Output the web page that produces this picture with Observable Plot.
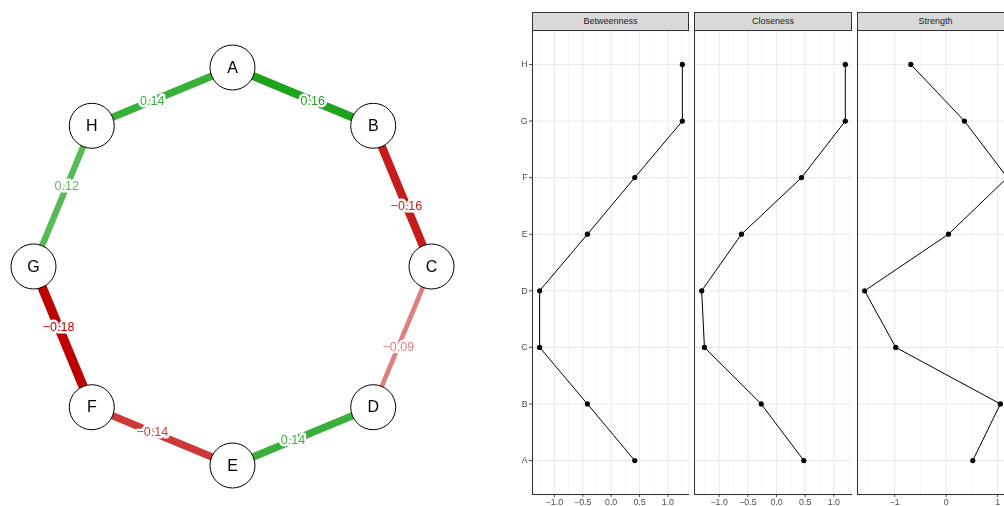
<!DOCTYPE html>
<html>
<head>
<meta charset="utf-8">
<script src="https://cdn.jsdelivr.net/npm/d3@7"></script>
<script src="https://cdn.jsdelivr.net/npm/@observablehq/plot@0.6"></script>
<style>
  body { margin: 0; background: #fff; overflow: hidden; font-family: "Liberation Sans", Arial, sans-serif; }
  #root { position: relative; width: 1004px; height: 506px; overflow: hidden; background: #fff; }
  #root svg { will-change: transform; }
  .strip { position: absolute; top: 12px; height: 19px; box-sizing: border-box; background: #d9d9d9;
           border: 1px solid #333; font-size: 9px; line-height: 17px; text-align: center; color: #1a1a1a; }
</style>
</head>
<body>
<div id="root"></div>
<script>
// ---------- data ----------
const nodes = ["A", "B", "C", "D", "E", "F", "G", "H"];

const edgeFrom   = ["A", "B", "C", "D", "E", "F", "G", "A"];
const edgeTo     = ["B", "C", "D", "E", "F", "G", "H", "H"];
const edgeWeight = [0.16, -0.16, -0.09, 0.14, -0.14, -0.18, 0.12, 0.14];

const measures = ["Betweenness", "Closeness", "Strength"];
const betweenness = [0.416, -0.418, -1.26, -1.26, -0.418, 0.416, 1.255, 1.255];
const closeness   = [0.476, -0.267, -1.257, -1.305, -0.611, 0.436, 1.2, 1.2];
const strength    = [0.517, 1.055, -0.98, -1.585, 0.045, 1.19, 0.355, -0.687];

const betweennessTicks = [-1, -0.5, 0, 0.5, 1];
const betweennessMinor = [-1.25, -0.75, -0.25, 0.25, 0.75, 1.25];
const closenessTicks   = [-1, -0.5, 0, 0.5, 1];
const closenessMinor   = [-1.25, -0.75, -0.25, 0.25, 0.75, 1.25];
const strengthTicks    = [-1, 0, 1];
const strengthMinor    = [-1.5, -0.5, 0.5];

// ---------- layout helpers ----------
const root = document.getElementById("root");
function place(el, left) {
  el.style.position = "absolute";
  el.style.left = left + "px";
  el.style.top = "0px";
  root.appendChild(el);
}

// ---------- network (circle layout) ----------
const n = nodes.length;
const layout = new Map(nodes.map((k, i) => {
  const a = Math.PI / 2 - i * 2 * Math.PI / n;
  return [k, {name: k, x: Math.cos(a), y: Math.sin(a)}];
}));
const nodeData = nodes.map(k => layout.get(k));
const maxW = d3.max(edgeWeight, Math.abs);
const fmtW = d3.format(".2f");
const edges = edgeFrom.map((f, i) => {
  const a = layout.get(f), b = layout.get(edgeTo[i]);
  const w = edgeWeight[i];
  const base = w > 0 ? "#009900" : "#bf0000";
  const t = Math.abs(w) / maxW;
  return {
    x1: a.x, y1: a.y, x2: b.x, y2: b.y,
    col: d3.interpolateRgb("#ffffff", base)(t),
    sw: 9.4 * t,
    lx: a.x + 0.57 * (b.x - a.x),
    ly: a.y + 0.57 * (b.y - a.y),
    label: fmtW(w)
  };
});

const net = Plot.plot({
  width: 470, height: 506,
  marginLeft: 33, marginRight: 39, marginTop: 67, marginBottom: 41,
  x: {domain: [-1, 1], axis: null},
  y: {domain: [-1, 1], axis: null},
  color: {type: "identity"},
  style: {fontFamily: "Liberation Sans, Arial, sans-serif", background: "transparent"},
  marks: [
    Plot.link(edges, {x1: "x1", y1: "y1", x2: "x2", y2: "y2", stroke: "col", strokeWidth: "sw", strokeLinecap: "butt"}),
    Plot.text(edges, {x: "lx", y: "ly", text: "label", fill: "col", stroke: "white", strokeWidth: 5,
                      paintOrder: "stroke", fontSize: 12.5}),
    Plot.dot(nodeData, {x: "x", y: "y", r: 22.5, fill: "white", stroke: "black", strokeWidth: 1}),
    Plot.text(nodeData, {x: "x", y: "y", text: "name", fontSize: 16, fill: "black"})
  ]
});
place(net, 0);

// ---------- centrality panels ----------
function panel(values, ticks, minor, fmt, width, marginLeft, showY) {
  const data = nodes.map((k, i) => ({node: k, value: values[i]}));
  const [lo, hi] = d3.extent(values);
  const pad = (hi - lo) * 0.05;
  return Plot.plot({
    width, height: 506,
    marginLeft, marginRight: 0, marginTop: 30, marginBottom: 12,
    style: {fontFamily: "Liberation Sans, Arial, sans-serif", fontSize: "8.8px", color: "#4d4d4d", background: "transparent"},
    x: {domain: [lo - pad, hi + pad], ticks, tickFormat: fmt, tickSize: 3, tickPadding: 1, label: null},
    y: {type: "point", domain: nodes, reverse: true, padding: 0.6, round: false, tickSize: 3, tickPadding: 2,
        label: null, axis: showY ? "left" : null},
    marks: [
      Plot.ruleX(minor, {stroke: "#ebebeb", strokeWidth: 0.55}),
      Plot.ruleX(ticks, {stroke: "#ebebeb", strokeWidth: 1.07}),
      Plot.ruleY(nodes, {stroke: "#ebebeb", strokeWidth: 1.07}),
      Plot.line(data, {x: "value", y: "node", stroke: "black", strokeWidth: 1}),
      Plot.dot(data, {x: "value", y: "node", r: 2.6, fill: "black"}),
      Plot.frame({stroke: "#333", strokeWidth: 1.07})
    ]
  });
}

const f1 = d3.format(".1f");
const f0 = d3.format(".0f");
const panels = [
  {name: measures[0], values: betweenness, ticks: betweennessTicks, minor: betweennessMinor, fmt: f1, left: 532, w: 157},
  {name: measures[1], values: closeness,   ticks: closenessTicks,   minor: closenessMinor,   fmt: f1, left: 694, w: 158},
  {name: measures[2], values: strength,    ticks: strengthTicks,    minor: strengthMinor,    fmt: f0, left: 857, w: 157}
];
panels.forEach((p, i) => {
  const ml = i === 0 ? 32 : 0;
  const svg = panel(p.values, p.ticks, p.minor, p.fmt, p.w + ml, ml, i === 0);
  place(svg, p.left - ml);
  const s = document.createElement("div");
  s.className = "strip";
  s.style.left = p.left + "px";
  s.style.width = p.w + "px";
  s.textContent = p.name;
  root.appendChild(s);
});
</script>
</body>
</html>
